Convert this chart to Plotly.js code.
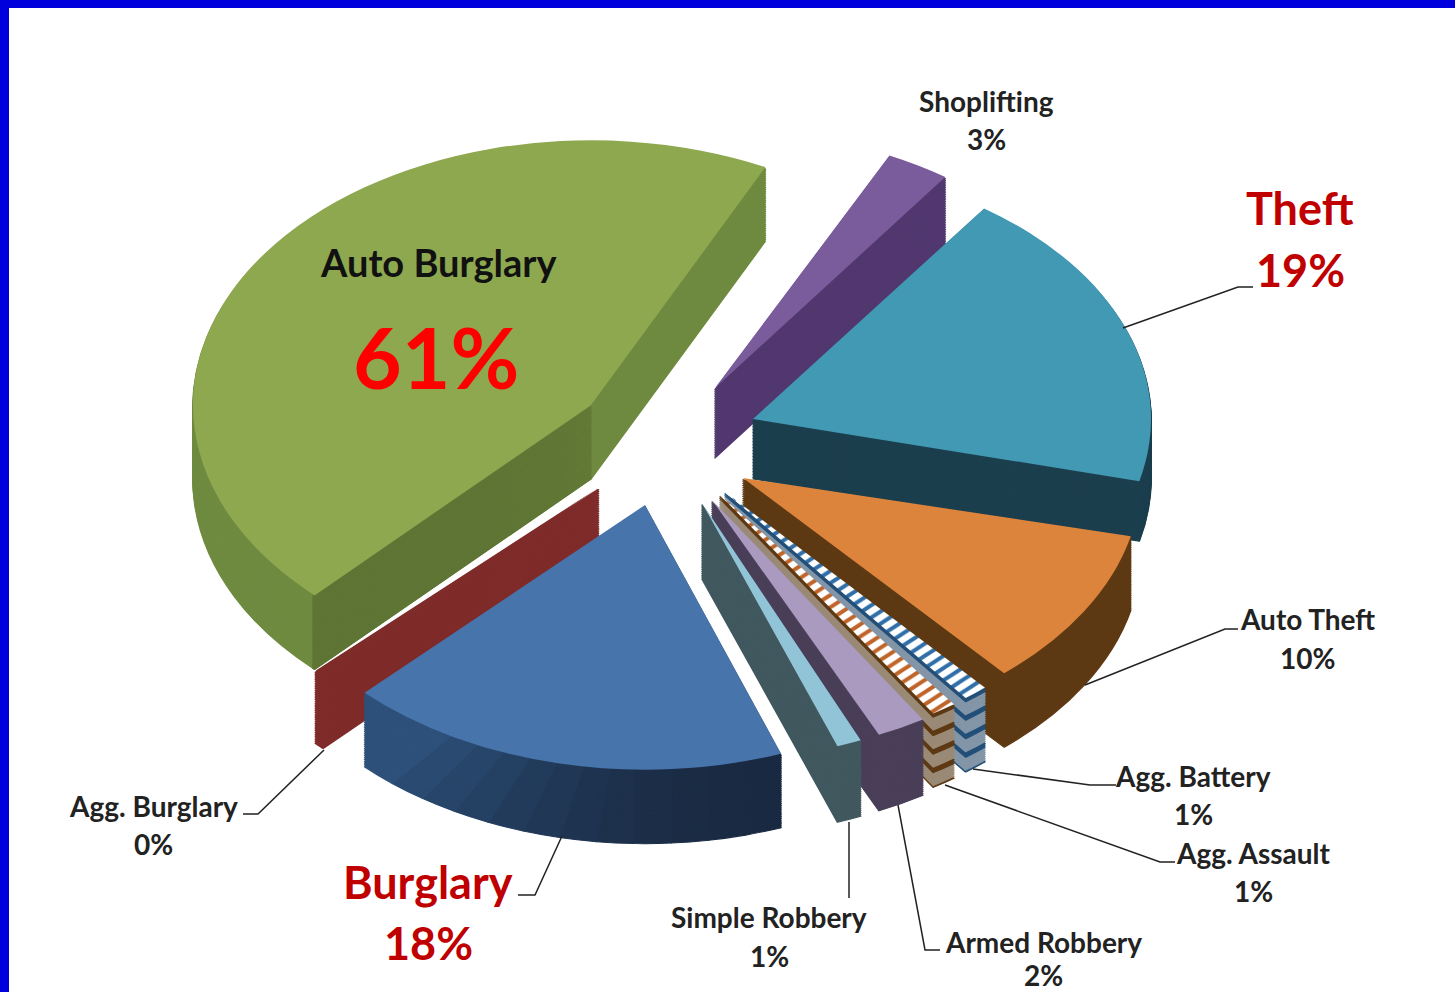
<!DOCTYPE html>
<html><head><meta charset="utf-8">
<script src="https://cdn.plot.ly/plotly-3.0.1.min.js"></script>
<style>html,body{margin:0;padding:0;background:#0000dc;overflow:hidden}#g{position:absolute;left:9px;top:8px;width:1446px;height:984px;background:#fff}</style>
</head><body><div id="g"></div>
<script>
// Data: shown categories and printed labels
const categories=["Shoplifting","Theft","Auto Theft","Agg. Battery","Agg. Assault","Armed Robbery","Simple Robbery","Burglary","Agg. Burglary","Auto Burglary"];
const labelPercents=["3%","19%","10%","1%","1%","2%","1%","18%","0%","61%"];
// share of the circle each drawn wedge covers
const sliceValues=[2.6,19,10,1,1,2,1,18,0.4,45];
// exploded-pie layout per wedge
const sliceStart=[26,35.5,103,139.2,144,148,156.5,160,223.7,224];
const explodeX=[715,753,743,725,720,712,702,645,598,591];
const explodeY=[388,419,478,492,495,500,503,505,488,405];
const depths=[70,60,74,74,74,76,76,74,73,74];
const flattens=[0.65,0.65,0.65,0.65,0.65,0.65,0.65,0.665,0.65,0.665];
const wallStroke=[1.2,1.2,1.2,1.2,1.2,1.2,1.2,1.2,2,1.2];
const topColors=["#7a5b9b","#4299b4","#dd843c","#ffffff","#ffffff","#aa9abf","#92c4d8","#4774ab","#7e2b2a","#8ea84f"];
const sideColors=["#52386f","#1c3f4e","#5e3a14","#8396a8","#9a8a76","#4a3f58","#41585f","#1f3a60","#7e2b2a","#6f8b40"];
const sideStripes=["","","","#234f78","#5e3a14","","","","",""];
const patternFg=["","","","#2f6ea8","#c0652a","","","","",""];
const patternShape=["","","","/","/","","","","",""];
const drawOrder=[0,1,2,3,4,5,6,8,9,7];
// wall shading facets: wedge index, start angle, share, colour
const wallFacets=[
  [7,160,1.5,"#1a2a42"],[7,165.4,1.5,"#1a2b43"],[7,170.8,1.5,"#1b2c45"],[7,176.2,1.5,"#1c2e48"],
  [7,181.6,1.5,"#1e314c"],[7,187,1.5,"#1f3451"],[7,192.4,1.5,"#213856"],[7,197.8,1.5,"#233c5c"],
  [7,203.2,1.5,"#254163"],[7,208.6,1.5,"#28466a"],[7,214,1.5,"#2b4b72"],[7,219.4,1.5,"#2e517b"],
  [9,224,0.1,"#5f7535"]
];

const W=1446,H=984,OX=9,OY=8;
const drawnCx=723,drawnCy=492,half=300;
const screenR=398,sx=screenR/half;
const layers=40;
const X=x=>(x-OX)/W, Y=y=>1-(y-OY)/H;
const total=100,clear="rgba(0,0,0,0)";

function wedge(name,start,value,color,stroke,shape,fg){
  const t={type:"pie",values:[value,total-value],labels:[name,"rest"],sort:false,direction:"clockwise",
    rotation:start,textinfo:"none",hoverinfo:"skip",showlegend:false,
    marker:{colors:[color,clear],line:{width:[stroke,0],color:[color,clear]}},
    domain:{x:[(drawnCx-half)/W,(drawnCx+half)/W],y:[1-(drawnCy+half)/H,1-(drawnCy-half)/H]}};
  if(shape) t.marker.pattern={shape:[shape,""],fgcolor:[fg,clear],size:10,solidity:0.4};
  return t;
}
const traces=[],placement=[];
drawOrder.forEach(i=>{
  const facets=wallFacets.filter(f=>f[0]===i);
  if(i!==7){
    for(let j=layers;j>=1;j--){
      const striped=sideStripes[i]&&j%10<3;
      traces.push(wedge(categories[i],sliceStart[i],sliceValues[i],striped?sideStripes[i]:sideColors[i],wallStroke[i]));
      placement.push([i,depths[i]*j/layers]);
    }
  }
  facets.forEach(f=>{
    for(let j=layers;j>=1;j--){
      traces.push(wedge(categories[i],f[1],f[2],f[3],wallStroke[i]));
      placement.push([i,depths[i]*j/layers]);
    }
  });
  traces.push(wedge(categories[i],sliceStart[i],sliceValues[i],topColors[i],0,patternShape[i],patternFg[i]));
  placement.push([i,0]);
});

const small={family:"Lato, sans-serif",size:28,color:"#222"};
const big={family:"Lato, sans-serif",size:45,color:"#c00000"};
const text=(s,x,y,f)=>({text:"<b>"+s+"</b>",x:X(x),y:Y(y),xref:"paper",yref:"paper",xanchor:"center",yanchor:"middle",showarrow:false,font:f});
const note=(i,x,y1,y2,f)=>[text(categories[i],x,y1,f),text(labelPercents[i],x,y2,f)];
const annotations=[
  ...note(0,986,101,139,small),...note(1,1300,208,270,big),...note(2,1307,619,658,small),...note(3,1193,776,814,small),
  ...note(4,1253,853,891,small),...note(5,1043,942,975,small),...note(6,769,917,956,small),...note(7,428,882,943,big),...note(8,153,806,844,small),
  text(categories[9],438,262,{family:"Lato, sans-serif",size:38,color:"#111"}),
  text(labelPercents[9],436,356,{family:"Lato, sans-serif",size:84,color:"#ff0000"})
];
const leaders=[
  [[1123,328],[1238,287],[1253,287]],
  [[1085,685],[1225,629],[1238,629]],
  [[973,769],[1090,785],[1116,785]],
  [[945,785],[1160,862],[1175,862]],
  [[898,805],[925,950],[940,950]],
  [[849,822],[849,898]],
  [[562,836],[535,895],[518,895]],
  [[324,750],[258,814],[243,814]]
];
const shapes=leaders.map(p=>({type:"path",xref:"paper",yref:"paper",line:{color:"#222",width:1.5},
  path:p.map((q,i)=>(i?"L":"M")+X(q[0])+","+Y(q[1])).join(" ")}));

Plotly.newPlot("g",traces,{width:W,height:H,margin:{l:0,r:0,t:0,b:0},paper_bgcolor:"#fff",annotations:annotations,shapes:shapes},{displayModeBar:false,staticPlot:true}).then(()=>{
  document.querySelectorAll("#g .pielayer .trace").forEach((el,n)=>{
    const [i,drop]=placement[n];
    el.setAttribute("transform",`translate(${explodeX[i]-OX},${explodeY[i]+drop-OY}) scale(${sx},${sx*flattens[i]}) translate(${-drawnCx},${-drawnCy})`);
  });
});
</script></body></html>
